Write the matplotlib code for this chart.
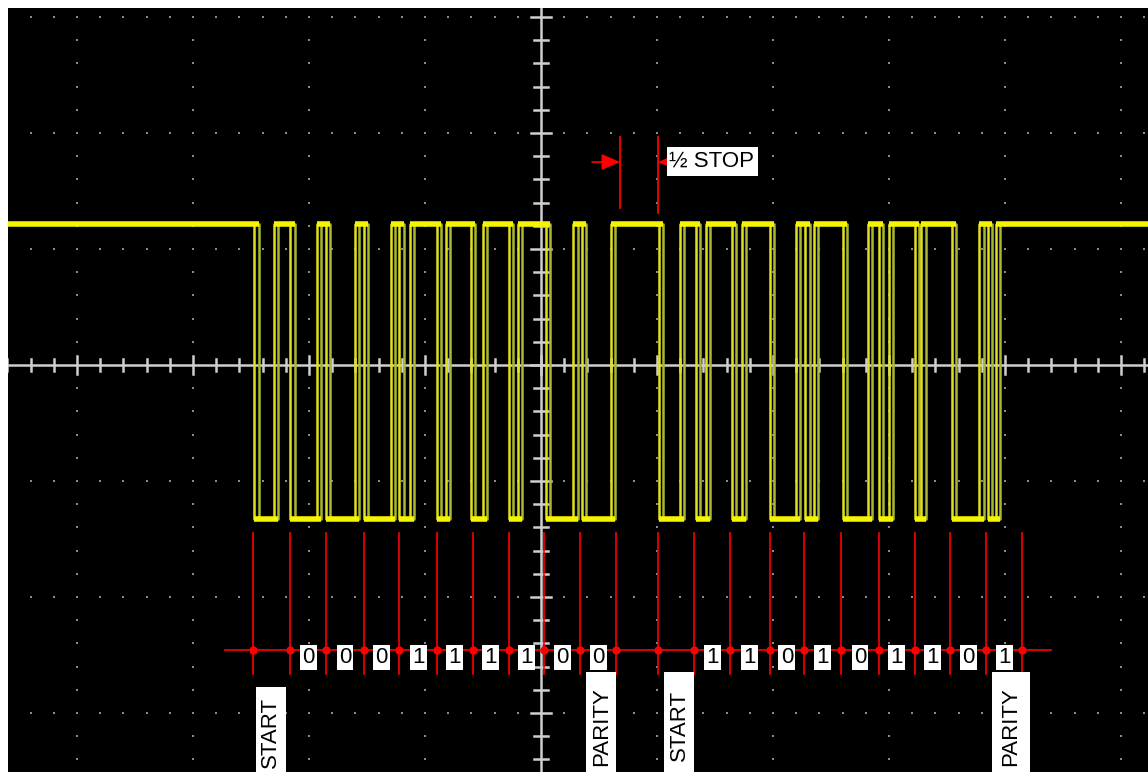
import numpy as np
import matplotlib.pyplot as plt
from matplotlib.patches import Rectangle

plt.rcParams['font.family'] = ['Liberation Sans', 'DejaVu Sans']

# serial line transitions (scope divisions from screen centre), line starts high
edges = [-2.47, -2.30, -2.16, -1.93, -1.85, -1.60, -1.53, -1.29, -1.22, -1.13,
         -0.90, -0.82, -0.60, -0.50, -0.28, -0.20, 0.04, 0.28, 0.35, 0.60,
         1.02, 1.20, 1.34, 1.42, 1.65, 1.73, 1.97, 2.20, 2.28, 2.35,
         2.60, 2.82, 2.91, 3.00, 3.22, 3.28, 3.54, 3.78, 3.85, 3.92]
high_level = 1.22
low_level = -1.33

# bit boundaries of the two frames
frame1_marks = [-2.48, -2.16, -1.85, -1.53, -1.22, -0.90, -0.59, -0.28, 0.03, 0.34, 0.65]
frame2_marks = [1.01, 1.32, 1.63, 1.97, 2.27, 2.59, 2.91, 3.22, 3.53, 3.84, 4.15]
frame1_bits = ['0', '0', '0', '1', '1', '1', '1', '0', '0']
frame2_bits = ['1', '1', '0', '1', '0', '1', '1', '0', '1']

# (text, centre x, text top, box left, box right, box top)
frame_labels = [('START', -2.33, -2.86, -2.457, -2.198, -2.776),
                ('PARITY', 0.52, -2.78, 0.388, 0.647, -2.647),
                ('START', 1.19, -2.80, 1.060, 1.319, -2.647),
                ('PARITY', 4.05, -2.78, 3.888, 4.216, -2.647)]

x_left, x_right = -4.595, 5.233
y_bottom, y_top = -3.509, 3.078

fig = plt.figure(figsize=(11.48, 7.72), dpi=100, facecolor='white')
ax = fig.add_axes([8 / 1148, 0, 1 - 8 / 1148, 764 / 772])
ax.set_facecolor('black')
ax.set_xlim(x_left, x_right)
ax.set_ylim(y_bottom, y_top)
ax.set_xticks([])
ax.set_yticks([])
for s in ax.spines.values():
    s.set_visible(False)

# graticule: dotted major lines, crosshair with ticks
for gx in [-4, -3, -2, -1, 1, 2, 3, 4, 5]:
    ys = np.arange(-3.4, 3.1, 0.2)
    ax.plot(np.full_like(ys, gx), ys, 's', color='#8a8a8a', ms=1.8, mew=0, zorder=1)
for gy in [-3, -2, -1, 1, 2, 3]:
    xs = np.arange(-4.6, 5.3, 0.2)
    ax.plot(xs, np.full_like(xs, gy), 's', color='#8a8a8a', ms=1.8, mew=0, zorder=1)
ax.axhline(0, color='#cfcfcf', lw=1.8, zorder=1)
ax.axvline(0, color='#cfcfcf', lw=1.8, zorder=1)
for k in range(-23, 27):
    t = k * 0.2
    h = 0.05 if k % 5 else 0.08
    ax.plot([t, t], [-h, h], color='#cfcfcf', lw=1.8, zorder=1)
for k in range(-17, 16):
    t = k * 0.2
    h = 0.06 if k % 5 else 0.09
    ax.plot([-h, h], [t, t], color='#cfcfcf', lw=1.8, zorder=1)

# signal trace
bounds = [x_left] + edges + [x_right]
levels = [high_level if i % 2 == 0 else low_level for i in range(len(bounds) - 1)]
sx = np.repeat(bounds, 2)[1:-1]
sy = np.repeat(levels, 2)
ax.plot(sx + 0.035, sy, color='#a9b832', lw=1.8, zorder=2)
ax.plot(sx, sy, color='#e0e020', lw=1.8, zorder=3)
for i in range(len(levels)):
    ax.plot([bounds[i], bounds[i + 1] + 0.035], [levels[i], levels[i]],
            color='#f5f500', lw=4, solid_capstyle='butt', zorder=3)

# bit markers
line_y = -2.457
ax.plot([-2.72, 4.40], [line_y, line_y], color='red', lw=1.2, zorder=4)
for marks, bits in [(frame1_marks, frame1_bits), (frame2_marks, frame2_bits)]:
    for m in marks:
        ax.plot([m, m], [-1.45, -2.66], color='red', lw=1.2, zorder=4)
    ax.plot(marks, [line_y] * len(marks), 'o', color='red', ms=5, zorder=5)
    for i, b in enumerate(bits):
        xc = (marks[i + 1] + marks[i + 2]) / 2
        ax.text(xc, -2.52, b, fontsize=16, color='black', ha='center', va='center',
                zorder=6, bbox=dict(boxstyle='square,pad=0.1', fc='white', ec='none'))

for txt, xc, ttop, bl, br, bt in frame_labels:
    ax.add_patch(Rectangle((bl, y_bottom - 0.1), br - bl, bt - y_bottom + 0.1,
                           fc='white', ec='none', zorder=6))
    ax.text(xc, ttop, txt, fontsize=16, rotation=90, ha='center', va='top',
            color='black', zorder=7)

# half stop marker
ax.plot([0.681, 0.681], [1.966, 1.353], color='red', lw=1.3, zorder=4)
ax.plot([1.009, 1.009], [1.966, 1.310], color='red', lw=1.3, zorder=4)
arrow = dict(arrowstyle='-|>,head_length=0.8,head_width=0.35', color='red',
             lw=1.2, mutation_scale=14, shrinkA=0, shrinkB=0)
ax.annotate('', xy=(0.681, 1.75), xytext=(0.44, 1.75), arrowprops=arrow, zorder=4)
ax.annotate('', xy=(1.009, 1.75), xytext=(1.15, 1.75), arrowprops=arrow, zorder=4)
ax.add_patch(Rectangle((1.086, 1.629), 0.785, 0.25, fc='white', ec='none', zorder=6))
ax.text(1.103, 1.754, '½ STOP', fontsize=16, ha='left', va='center', color='black', zorder=7)

fig.savefig('out.png', dpi=100, facecolor='white')
